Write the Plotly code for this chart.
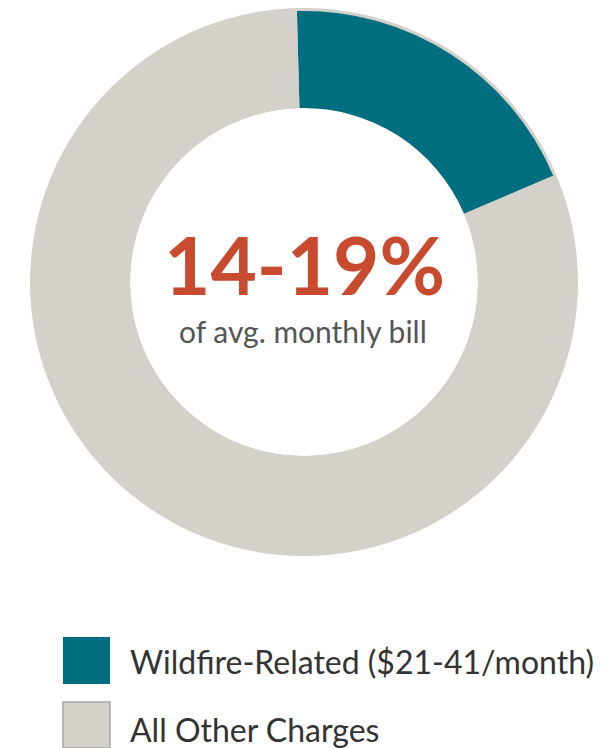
import plotly.graph_objects as go

# page body has an 8px margin, so the figure is sized to fit the window
W, H = 605, 740
OFF = 8

# ---- data ----
categories = ["Wildfire-Related ($21-41/month)", "All Other Charges"]
values = [19, 81]
colors = ["#006E7E", "#D3D1C9"]
center_value = "14-19%"
center_caption = "of avg. monthly bill"


def px_x(x):
    return (x - OFF) / W


def px_y(y):
    return min(1.0, max(0.0, 1 - (y - OFF) / H))


fig = go.Figure()

# background ring (gray base, slightly larger)
cx, cy = 304, 282
r_out, r_in = 274, 174
fig.add_trace(go.Pie(
    values=[sum(values)],
    labels=["base"],
    marker=dict(colors=[colors[1]], line=dict(width=0)),
    hole=r_in / r_out,
    sort=False,
    textinfo="none",
    hoverinfo="skip",
    showlegend=False,
    domain=dict(x=[px_x(cx - r_out), px_x(cx + r_out)],
                y=[px_y(cy + r_out), px_y(cy - r_out)]),
))

# main donut
r_main = 271
fig.add_trace(go.Pie(
    values=values,
    labels=categories,
    marker=dict(colors=[colors[0], colors[1]], line=dict(width=0)),
    hole=r_in / r_main,
    sort=False,
    direction="clockwise",
    rotation=-1.5,
    textinfo="none",
    showlegend=False,
    domain=dict(x=[px_x(cx - r_main), px_x(cx + r_main)],
                y=[px_y(cy + r_main), px_y(cy - r_main)]),
))

annotations = [
    dict(text=f"<b>{center_value}</b>", x=px_x(304), y=px_y(264),
         xref="paper", yref="paper", showarrow=False,
         xanchor="center", yanchor="middle",
         font=dict(family="Lato", size=80, color="#C84B2F")),
    dict(text=center_caption, x=px_x(303), y=px_y(331),
         xref="paper", yref="paper", showarrow=False,
         xanchor="center", yanchor="middle",
         font=dict(family="Lato", size=30, color="#555555")),
]

shapes = []
legend_rows = [(637, 684), (702, 749)]
text_dy = [1, 4]
for i, (name, col) in enumerate(zip(categories, colors)):
    y0, y1 = legend_rows[i]
    shapes.append(dict(
        type="rect", xref="paper", yref="paper",
        x0=px_x(63), x1=px_x(110), y0=px_y(y1), y1=px_y(y0),
        fillcolor=col,
        line=dict(color="#A9A7A2" if i == 1 else col, width=1.5 if i == 1 else 0),
        layer="above",
    ))
    annotations.append(dict(
        text=name, x=px_x(128), y=px_y((y0 + y1) / 2 + text_dy[i]),
        xref="paper", yref="paper", showarrow=False,
        xanchor="left", yanchor="middle",
        font=dict(family="Lato", size=32, color="#333333"),
    ))

fig.update_layout(
    width=W, height=H,
    margin=dict(l=0, r=0, t=0, b=0),
    paper_bgcolor="white",
    plot_bgcolor="white",
    annotations=annotations,
    shapes=shapes,
    showlegend=False,
)

fig.write_html("out.html")
